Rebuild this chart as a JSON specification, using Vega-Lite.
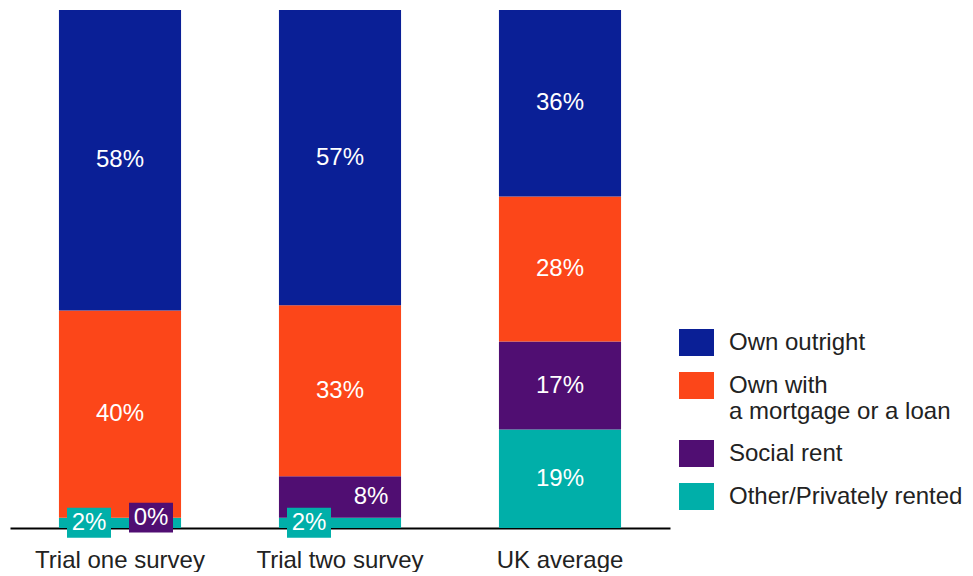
{
  "$schema": "https://vega.github.io/schema/vega-lite/v6.json",
  "width": 660,
  "height": 518,
  "padding": {"left": 10, "top": 10, "right": 0, "bottom": 0},
  "background": "white",
  "config": {"view": {"stroke": null}, "font": "Liberation Sans"},
  "data": {
    "values": [
      {"group": "Trial one survey", "type": "Other/Privately rented", "rank": 1, "value": 0.02},
      {"group": "Trial one survey", "type": "Social rent", "rank": 2, "value": 0.0},
      {"group": "Trial one survey", "type": "Own with a mortgage or a loan", "rank": 3, "value": 0.40},
      {"group": "Trial one survey", "type": "Own outright", "rank": 4, "value": 0.58},
      {"group": "Trial two survey", "type": "Other/Privately rented", "rank": 1, "value": 0.02},
      {"group": "Trial two survey", "type": "Social rent", "rank": 2, "value": 0.08},
      {"group": "Trial two survey", "type": "Own with a mortgage or a loan", "rank": 3, "value": 0.33},
      {"group": "Trial two survey", "type": "Own outright", "rank": 4, "value": 0.57},
      {"group": "UK average", "type": "Other/Privately rented", "rank": 1, "value": 0.19},
      {"group": "UK average", "type": "Social rent", "rank": 2, "value": 0.17},
      {"group": "UK average", "type": "Own with a mortgage or a loan", "rank": 3, "value": 0.28},
      {"group": "UK average", "type": "Own outright", "rank": 4, "value": 0.36}
    ]
  },
  "encoding": {
    "x": {
      "field": "group",
      "type": "nominal",
      "sort": ["Trial one survey", "Trial two survey", "UK average"],
      "scale": {"paddingInner": 0.445, "paddingOuter": 0.2225},
      "axis": {
        "title": null,
        "labelAngle": 0,
        "labelFontSize": 24,
        "labelColor": "#222222",
        "labelPadding": 20,
        "ticks": false,
        "domainColor": "#000000",
        "domainWidth": 2
      }
    },
    "order": {"field": "rank", "type": "quantitative"}
  },
  "layer": [
    {
      "mark": {"type": "bar"},
      "encoding": {
        "y": {"field": "value", "type": "quantitative", "stack": "zero", "scale": {"domain": [0, 1], "nice": false}, "axis": null},
        "color": {
          "field": "type",
          "type": "nominal",
          "scale": {
            "domain": ["Own outright", "Own with a mortgage or a loan", "Social rent", "Other/Privately rented"],
            "range": ["#0A1F96", "#FC4619", "#500E72", "#00AFA9"]
          },
          "legend": {
            "orient": "none",
            "legendX": 669,
            "legendY": 315,
            "title": null,
            "padding": 0,
            "symbolType": "M-1,-0.77H1V0.77H-1Z",
            "symbolSize": 1225,
            "symbolStrokeWidth": 0,
            "labelFontSize": 24,
            "labelColor": "#222222",
            "labelOffset": 15,
            "labelLimit": 400,
            "rowPadding": 12,
            "labelExpr": "datum.label == 'Own with a mortgage or a loan' ? ['Own with', 'a mortgage or a loan'] : datum.label"
          }
        }
      }
    },
    {
      "mark": {"type": "point", "shape": "M-1,-0.68H1V0.68H-1Z", "size": 1936, "filled": true, "xOffset": -31, "fill": "#00AFA9", "strokeWidth": 0},
      "encoding": {
        "y": {"field": "value", "type": "quantitative", "stack": "zero", "bandPosition": 0.5},
        "detail": {"field": "type"},
        "opacity": {"condition": {"test": "datum.type == 'Other/Privately rented' && datum.value < 0.05", "value": 1}, "value": 0}
      }
    },
    {
      "mark": {"type": "point", "shape": "M-1,-0.68H1V0.68H-1Z", "size": 1936, "filled": true, "xOffset": 31, "fill": "#500E72", "strokeWidth": 0},
      "encoding": {
        "y": {"field": "value", "type": "quantitative", "stack": "zero", "bandPosition": 0.5},
        "detail": {"field": "type"},
        "opacity": {"condition": {"test": "datum.type == 'Social rent' && datum.value < 0.05", "value": 1}, "value": 0}
      }
    },
    {
      "mark": {"type": "text", "color": "white", "fontSize": 24, "baseline": "middle"},
      "encoding": {
        "y": {"field": "value", "type": "quantitative", "stack": "zero", "bandPosition": 0.5},
        "detail": {"field": "type"},
        "text": {"condition": {"test": "datum.value >= 0.1", "field": "value", "type": "quantitative", "format": ".0%"}, "value": ""}
      }
    },
    {
      "mark": {"type": "text", "color": "white", "fontSize": 24, "baseline": "middle", "dx": -31},
      "encoding": {
        "y": {"field": "value", "type": "quantitative", "stack": "zero", "bandPosition": 0.5},
        "detail": {"field": "type"},
        "text": {"condition": {"test": "datum.type == 'Other/Privately rented' && datum.value < 0.1", "field": "value", "type": "quantitative", "format": ".0%"}, "value": ""}
      }
    },
    {
      "mark": {"type": "text", "color": "white", "fontSize": 24, "baseline": "middle", "dx": 31},
      "encoding": {
        "y": {"field": "value", "type": "quantitative", "stack": "zero", "bandPosition": 0.5},
        "detail": {"field": "type"},
        "text": {"condition": {"test": "datum.type == 'Social rent' && datum.value < 0.1", "field": "value", "type": "quantitative", "format": ".0%"}, "value": ""}
      }
    }
  ]
}
